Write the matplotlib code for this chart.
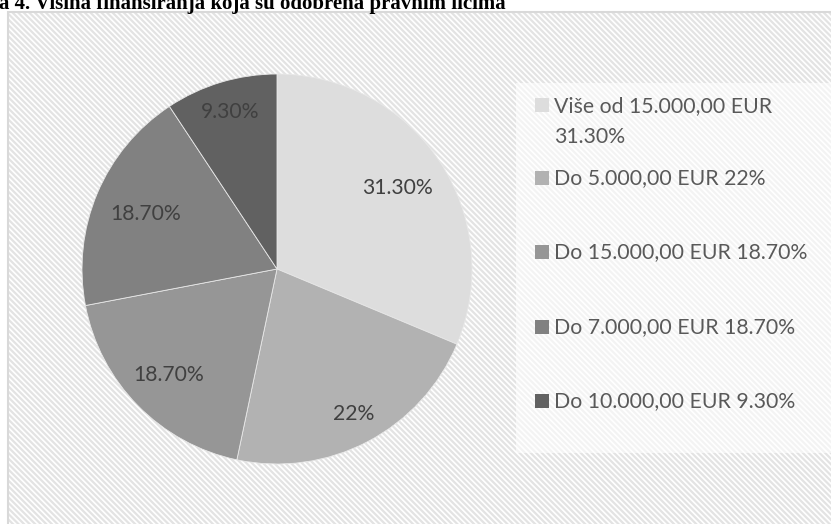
import matplotlib
matplotlib.use("Agg")
import matplotlib.pyplot as plt
from matplotlib.patches import Rectangle
import numpy as np

# ---- data ----
categories = ["Više od 15.000,00 EUR", "Do 5.000,00 EUR", "Do 15.000,00 EUR",
              "Do 7.000,00 EUR", "Do 10.000,00 EUR"]
values = [31.3, 22.0, 18.7, 18.7, 9.3]
value_labels = ["31.30%", "22%", "18.70%", "18.70%", "9.30%"]
legend_labels = ["Više od 15.000,00 EUR\n31.30%", "Do 5.000,00 EUR 22%",
                 "Do 15.000,00 EUR 18.70%", "Do 7.000,00 EUR 18.70%",
                 "Do 10.000,00 EUR 9.30%"]
title = "a 4. Visina finansiranja koja su odobrena pravnim licima"

# ---- style ----
colors = ["#DDDDDD", "#B2B2B2", "#969696", "#818181", "#616161"]
label_dist = [0.745, 0.84, 0.775, 0.73, 0.84]
FONT = "Lato"

W, H = 831, 524
fig = plt.figure(figsize=(W / 100, H / 100), dpi=100)
fig.patch.set_facecolor("white")

plt.rcParams["hatch.linewidth"] = 1.6

# chart area background with diagonal hatch
bg = Rectangle((8 / W, -0.05), 1.1, (H - 12) / H + 0.05, transform=fig.transFigure,
               facecolor="white", edgecolor="#E3E3E3", hatch="\\" * 6, linewidth=0,
               zorder=0)
fig.patches.append(bg)
border = Rectangle((8 / W, -0.05), 1.1, (H - 12) / H + 0.05, transform=fig.transFigure,
                   facecolor="none", edgecolor="#D9D9D9", linewidth=1.5, zorder=1)
fig.patches.append(border)

# legend area (semi-transparent white)
lg = Rectangle((516 / W, 1 - 453 / H), (W - 516 + 10) / W, (453 - 83) / H,
               transform=fig.transFigure, facecolor="white", alpha=0.6,
               edgecolor="none", zorder=1)
fig.patches.append(lg)

# title (cut off at top)
fig.text(-1 / W, 1 - 9 / H, title, fontsize=15, fontweight="bold",
         family="Liberation Serif", ha="left", va="baseline", color="black")

# pie
cx, cy, r = 277, 269, 195
ax = fig.add_axes([(cx - r) / W, (H - cy - r) / H, 2 * r / W, 2 * r / H])
ax.set_zorder(2)
ax.patch.set_visible(False)
wedges, _ = ax.pie(values, colors=colors, startangle=90, counterclock=False,
                   radius=1, wedgeprops=dict(linewidth=0.6, edgecolor="#E8E8E8"))
ax.set_xlim(-1, 1)
ax.set_ylim(-1, 1)
ax.set_aspect("equal")
ax.axis("off")

total = sum(values)
start = 90.0
for v, lab, d in zip(values, value_labels, label_dist):
    ang = start - v / total * 360 / 2
    start -= v / total * 360
    a = np.deg2rad(ang)
    ax.text(d * np.cos(a), d * np.sin(a), lab, ha="center", va="center",
            fontsize=15.2, family=FONT, color="#404040")

# legend (manual placement)
entry_y = [105, 178, 252, 327, 401]
for col, lab, y in zip(colors, legend_labels, entry_y):
    fig.patches.append(Rectangle((535 / W, 1 - (y + 7) / H), 14 / W, 14 / H,
                                 transform=fig.transFigure, facecolor=col,
                                 edgecolor="none", zorder=3))
    if "\n" in lab:
        fig.text(554 / W, 1 - (y - 9) / H, lab, fontsize=15.3, family=FONT,
                 color="#595959", ha="left", va="top", linespacing=1.7, zorder=3)
    else:
        fig.text(554 / W, 1 - y / H, lab, fontsize=15.3, family=FONT,
                 color="#595959", ha="left", va="center", zorder=3)

fig.savefig("out.png", dpi=100)
